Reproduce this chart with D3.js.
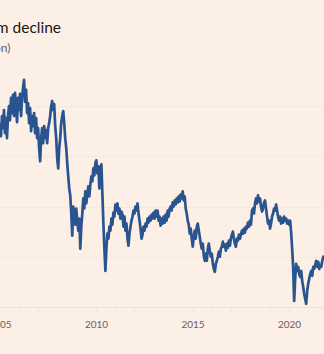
<!DOCTYPE html>
<html>
<head>
<meta charset="utf-8">
<script src="https://cdn.jsdelivr.net/npm/d3@7"></script>
<style>
  html, body { margin: 0; padding: 0; background: #fcf0e6; }
  svg { display: block; }
</style>
</head>
<body>
<div id="chart"></div>
<script>
// ---- Data ----
const titleText = "Long-term decline";
const subtitleText = "(£bn)";
const xTickYears = [2005, 2010, 2015, 2020];
const gridValues = [0, 50, 100, 150, 200];
const seriesStart = "2005-01-10";   // first observation
const seriesStepDays = 19;          // spacing between observations
const seriesValues = [
  183,170,190,178,196,173,188,168,190,200,186,208,193,211,190,213,198,184,208,196,
  212,190,208,218,226,204,216,193,203,183,198,175,190,180,193,173,188,168,178,158,
  145,168,178,163,180,168,176,163,178,183,190,200,205,196,202,180,168,148,138,158,
  168,183,190,195,183,168,158,143,130,118,111,93,71,100,93,82,98,86,76,88,
  58,80,93,108,98,115,103,113,120,110,122,130,125,138,131,143,146,133,140,118,
  138,142,113,83,58,36,58,73,68,80,76,88,82,94,90,102,96,103,93,98,
  88,95,92,80,90,76,83,68,61,73,80,86,90,96,93,100,96,103,93,86,
  78,68,72,80,76,83,80,88,84,90,86,92,88,94,88,96,90,96,86,90,
  81,88,83,90,84,92,86,96,90,98,100,96,104,100,106,102,108,104,110,105,
  112,108,115,106,110,98,93,86,82,73,78,68,60,70,76,68,80,83,76,70,
  63,58,63,51,46,53,46,58,63,56,50,53,43,38,35,43,46,50,55,50,
  58,60,65,60,62,56,63,59,66,61,68,72,75,68,63,60,68,66,72,68,
  72,76,73,78,74,80,78,84,80,86,82,96,98,93,103,108,103,111,105,108,
  100,95,98,104,106,98,90,83,86,78,83,90,93,98,96,102,96,90,86,90,
  83,88,84,90,86,88,83,86,82,86,74,58,40,6,28,43,36,40,33,30,
  36,26,20,13,8,3,16,23,28,33,36,31,40,38,42,46,40,45,38,42,
  40,46,50,48,51
];

// ---- Layout ----
const W = 324, H = 354;
const svg = d3.select("#chart").append("svg")
  .attr("width", W).attr("height", H)
  .style("background", "#fcf0e6");

const start = d3.isoParse(seriesStart);
const data = seriesValues.map((v, i) => ({ date: d3.timeDay.offset(start, i * seriesStepDays), value: v }));

const x = d3.scaleTime()
  .domain([new Date(2005, 0, 1), new Date(2022, 0, 1)])
  .range([-0.5, -0.5 + 17 * 19.3]);
const y = d3.scaleLinear().domain([0, 200]).range([307, 106]);

// gridlines
svg.append("g").selectAll("line").data(gridValues).join("line")
  .attr("x1", 0).attr("x2", W)
  .attr("y1", d => Math.round(y(d)) + 0.5).attr("y2", d => Math.round(y(d)) + 0.5)
  .attr("stroke", d => d === 0 ? "#ede2d7" : "#f3e8dd")
  .attr("stroke-width", 1);

// x axis
const xAxis = d3.axisBottom(x)
  .tickValues(d3.range(2001, 2023).map(yr => new Date(yr, 0, 1)))
  .tickSize(5)
  .tickFormat(d => xTickYears.includes(d.getFullYear()) ? d3.timeFormat("%Y")(d) : "");
const gx = svg.append("g").attr("transform", "translate(0,307)").call(xAxis);
gx.select(".domain").remove();
gx.selectAll(".tick line").attr("stroke", "#f1e5da");
gx.selectAll(".tick text")
  .attr("y", 14)
  .attr("font-family", "Lato, 'Noto Sans', sans-serif")
  .attr("font-size", "10px")
  .attr("fill", "#66605c");

// line
const line = d3.line().x(d => x(d.date)).y(d => y(d.value)).curve(d3.curveLinear);
svg.append("path").datum(data)
  .attr("d", line)
  .attr("fill", "none")
  .attr("stroke", "#29548f")
  .attr("stroke-width", 2.7)
  .attr("stroke-linejoin", "round");

// title & subtitle (cropped at left edge, as in the reference)
svg.append("text")
  .attr("x", 61).attr("y", 32.5)
  .attr("text-anchor", "end")
  .attr("font-family", "Lato, 'Noto Sans', sans-serif")
  .attr("font-size", "15.5px")
  .attr("fill", "#1a1816")
  .text(titleText);
svg.append("text")
  .attr("x", 10.5).attr("y", 51.5)
  .attr("text-anchor", "end")
  .attr("font-family", "Lato, 'Noto Sans', sans-serif")
  .attr("font-size", "12px")
  .attr("fill", "#66605c")
  .text(subtitleText);
</script>
</body>
</html>
